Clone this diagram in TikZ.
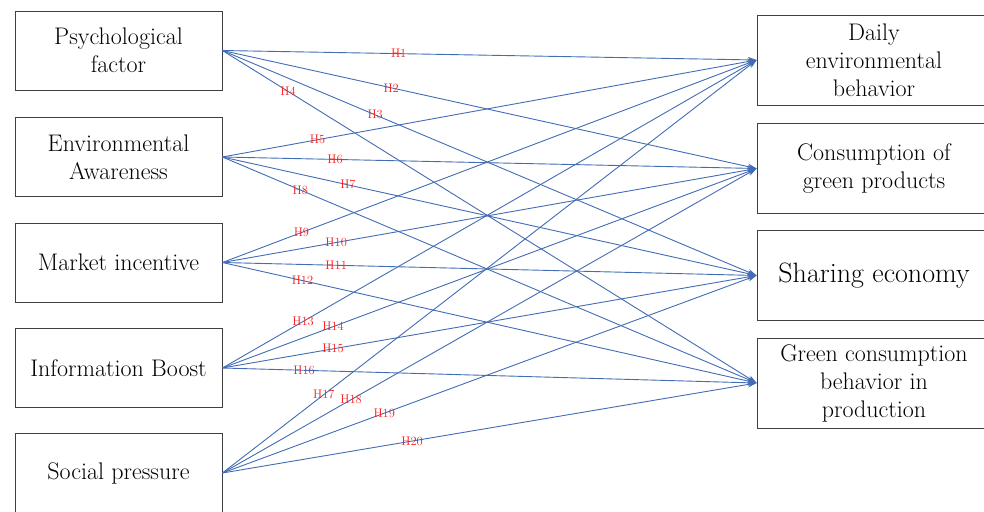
\documentclass[tikz,border=0pt]{standalone}
\usepackage{xcolor}
\usepackage{tikz}
\usetikzlibrary{arrows.meta}
\definecolor{linkblue}{RGB}{66,108,180}
\definecolor{hred}{RGB}{250,30,30}
\tikzset{
box/.style={draw=black!75,line width=0.8pt,fill=white,align=center,inner sep=2pt,
 minimum width=207,minimum height=79,font=\fontsize{24}{28}\selectfont},
goal/.style={box,minimum width=234,minimum height=90},
link/.style={linkblue,line width=0.9pt,-{Stealth[length=9pt,width=6pt]}},
hl/.style={hred,inner sep=0pt,font=\fontsize{12.5}{13}\selectfont}
}
\begin{document}
\begin{tikzpicture}[x=1pt,y=-1pt]
\useasboundingbox(0,0)rectangle(984,511);
% left side
\node[box](psy)at(118.5,50.5){Psychological\\factor};
\node[box](env)at(118.5,157){Environmental\\Awareness};
\node[box](mkt)at(118.5,262.5){Market incentive};
\node[box](inf)at(118.5,368){Information Boost};
\node[box](soc)at(118.5,473){Social pressure};
% right side
\node[goal](daily)at(874,60){Daily\\environmental\\behavior};
\node[goal](cons)at(874,168.5){Consumption of\\green products};
\node[goal,font=\fontsize{28}{30}\selectfont](share)at(874,275.5){Sharing economy};
\node[goal](prod)at(874,383){Green consumption\\behavior in\\production};
% hypotheses
\draw[link](psy.east)--(daily.west)node[hl,pos=.33]{H1};
\draw[link](psy.east)--(cons.west)node[hl,pos=.316]{H2};
\draw[link](psy.east)--(share.west)node[hl,pos=.286]{H3};
\draw[link](psy.east)--(prod.west)node[hl,pos=.123]{H4};
\draw[link](env.east)--(daily.west)node[hl,pos=.178]{H5};
\draw[link](env.east)--(cons.west)node[hl,pos=.211]{H6};
\draw[link](env.east)--(share.west)node[hl,pos=.235]{H7};
\draw[link](env.east)--(prod.west)node[hl,pos=.146]{H8};
\draw[link](mkt.east)--(daily.west)node[hl,pos=.148]{H9};
\draw[link](mkt.east)--(cons.west)node[hl,pos=.213]{H10};
\draw[link](mkt.east)--(share.west)node[hl,pos=.213]{H11};
\draw[link](mkt.east)--(prod.west)node[hl,pos=.15]{H12};
\draw[link](inf.east)--(daily.west)node[hl,pos=.151]{H13};
\draw[link](inf.east)--(cons.west)node[hl,pos=.207]{H14};
\draw[link](inf.east)--(share.west)node[hl,pos=.207]{H15};
\draw[link](inf.east)--(prod.west)node[hl,pos=.153]{H16};
\draw[link](soc.east)--(daily.west)node[hl,pos=.19]{H17};
\draw[link](soc.east)--(cons.west)node[hl,pos=.241]{H18};
\draw[link](soc.east)--(share.west)node[hl,pos=.303]{H19};
\draw[link](soc.east)--(prod.west)node[hl,pos=.355]{H20};
\end{tikzpicture}
\end{document}
